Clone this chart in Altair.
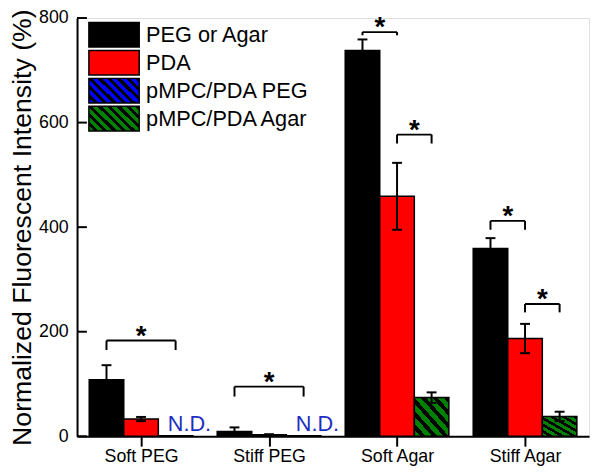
import json
import altair as alt
import pandas as pd

# ---------------- data ----------------
categories = ["Soft PEG", "Stiff PEG", "Soft Agar", "Stiff Agar"]
series = ["PEG or Agar", "PDA", "pMPC/PDA PEG", "pMPC/PDA Agar"]
series_colors = ["#000000", "#ff0000", "#0000ff", "#008000"]

peg_agar_mean = [108, 9, 738, 359]
peg_agar_err = [28, 8, 21, 20]
pda_mean = [33, 3, 459, 187]
pda_err = [4, 1, 64, 28]
pmpc_peg_categories = ["Soft PEG", "Stiff PEG"]   # N.D.
pmpc_peg_mean = [1, 1]
pmpc_peg_err = [0, 0]
pmpc_agar_categories = ["Soft Agar", "Stiff Agar"]
pmpc_agar_mean = [74, 38]
pmpc_agar_err = [10, 9]

nd_categories = ["Soft PEG", "Stiff PEG"]

# significance brackets: category, from slot, to slot, bracket level, leg end
br_category = ["Soft PEG", "Stiff PEG", "Soft Agar", "Soft Agar", "Stiff Agar", "Stiff Agar"]
br_from = [0, 0, 0, 1, 0, 1]
br_to = [2, 2, 1, 2, 1, 2]
br_top = [183, 95, 773, 577, 412, 253]
br_leg = [165, 76, 767, 560, 395, 237]

y_ticks = [0, 200, 400, 600, 800]

# ---------------- style ----------------
W = 0.27
FONT = "Liberation Sans"


def slot_x(i, slot):
    return i + (slot - 1) * W


rows = []


def add(name, slot, cats, means, errs):
    for c, m, e in zip(cats, means, errs):
        i = categories.index(c)
        xc = slot_x(i, slot)
        rows.append(dict(series=name, xc=xc, x0=xc - W / 2, x1=xc + W / 2,
                         mean=m, err=e, lo=m - e, hi=m + e, zero=0))


add(series[0], 0, categories, peg_agar_mean, peg_agar_err)
add(series[1], 1, categories, pda_mean, pda_err)
add(series[2], 2, pmpc_peg_categories, pmpc_peg_mean, pmpc_peg_err)
add(series[3], 2, pmpc_agar_categories, pmpc_agar_mean, pmpc_agar_err)
bars = pd.DataFrame(rows)
solid = bars[bars.series.isin(series[:2])]
blue_df = bars[bars.series == series[2]]
green_df = bars[bars.series == series[3]]
err_df = bars[bars.err > 0]

br_rows, leg_rows = [], []
for c, f, t, top, leg in zip(br_category, br_from, br_to, br_top, br_leg):
    i = categories.index(c)
    a, b = slot_x(i, f), slot_x(i, t)
    br_rows.append(dict(a=a, b=b, mid=(a + b) / 2, top=top, leg=leg))
    leg_rows.append(dict(x=a, top=top, leg=leg))
    leg_rows.append(dict(x=b, top=top, leg=leg))
br_df = pd.DataFrame(br_rows)
leg_df = pd.DataFrame(leg_rows)

nd_df = pd.DataFrame({"x": [slot_x(categories.index(c), 2) for c in nd_categories],
                      "zero": [0] * len(nd_categories)})
tick_df = pd.DataFrame({"v": y_ticks})
legend_df = pd.DataFrame({"label": series})


def hatch(color, n, black=0.45, x1=0, y1=1, x2=1, y2=0):
    stops = []
    for k in range(n):
        s = k / n
        m = (k + 1 - black) / n
        e = (k + 1) / n
        stops += [{"offset": s, "color": color}, {"offset": m, "color": color},
                  {"offset": m, "color": "#000000"}, {"offset": e, "color": "#000000"}]
    return {"gradient": "linear", "stops": stops, "x1": x1, "y1": y1, "x2": x2, "y2": y2}


labels_expr = json.dumps(categories) + "[datum.value]"
x_scale = alt.Scale(domain=[-0.5, 3.5], nice=False, zero=False)
y_scale = alt.Scale(domain=[0, 800], nice=False)
x_axis = alt.Axis(values=[0, 1, 2, 3], labelExpr=labels_expr, title=None, grid=False,
                  tickSize=10, tickWidth=2, tickColor="black", labelFontSize=18,
                  labelPadding=2, domainWidth=2, domainColor="black", labelColor="black",
                  labelFont=FONT)
y_axis = alt.Axis(values=y_ticks, ticks=False, labelPadding=9, labelFontSize=18, grid=False,
                  domainWidth=2, domainColor="black", labelColor="black", labelFont=FONT,
                  title="Normalized Fluorescent Intensity (%)", titleFontSize=27,
                  titleFontWeight="normal", titleFont=FONT, titleColor="black",
                  titleAngle=-90, titleX=-55, titleY=212, titleAlign="center",
                  titleBaseline="middle")


def X(f):
    return alt.X(f, type="quantitative", scale=x_scale, axis=x_axis)


def Y(f):
    return alt.Y(f, type="quantitative", scale=y_scale, axis=y_axis)


color_scale = alt.Scale(domain=series, range=series_colors)

solid_bars = alt.Chart(solid).mark_bar(stroke="black", strokeWidth=1.5).encode(
    x=X("x0"), x2="x1", y=Y("mean"), y2="zero",
    color=alt.Color("series:N", scale=color_scale, legend=None))
blue_bars = alt.Chart(blue_df).mark_bar(stroke="black", strokeWidth=1.5,
                                        fill=hatch("#0000ff", 7)).encode(
    x=X("x0"), x2="x1", y=Y("mean"), y2="zero")
green_bars = alt.Chart(green_df).mark_bar(stroke="black", strokeWidth=1.5,
                                          fill=hatch("#008000", 6)).encode(
    x=X("x0"), x2="x1", y=Y("mean"), y2="zero")

err_line = alt.Chart(err_df).mark_rule(color="black", strokeWidth=2).encode(
    x=X("xc"), y=Y("lo"), y2="hi")
cap_hi = alt.Chart(err_df).mark_tick(color="black", thickness=2, size=10,
                                      orient="horizontal", opacity=1).encode(
    x=X("xc"), y=Y("hi"))
cap_lo = alt.Chart(err_df).mark_tick(color="black", thickness=2, size=10,
                                      orient="horizontal", opacity=1).encode(
    x=X("xc"), y=Y("lo"))

br_h = alt.Chart(br_df).mark_rule(color="black", strokeWidth=2).encode(
    x=X("a"), x2="b", y=Y("top"))
br_v = alt.Chart(leg_df).mark_rule(color="black", strokeWidth=2).encode(
    x=X("x"), y=Y("leg"), y2="top")
stars = alt.Chart(br_df).mark_text(text="*", fontSize=28, fontWeight="bold", font=FONT,
                                   baseline="alphabetic", dy=4, color="black").encode(
    x=X("mid"), y=Y("top"))
nd = alt.Chart(nd_df).mark_text(text="N.D.", fontSize=22, font=FONT, color="#1f2fbf",
                                baseline="alphabetic", dx=14, dy=-5).encode(
    x=X("x"), y=Y("zero"))
yticks = alt.Chart(tick_df).mark_tick(color="black", thickness=2, size=10,
                                       orient="horizontal", opacity=1).encode(
    x=alt.value(5), y=Y("v"))

main = alt.layer(solid_bars, blue_bars, green_bars, err_line, cap_hi, cap_lo,
                 br_h, br_v, stars, nd, yticks)

leg_y = alt.Y("label:N", sort=series, axis=None,
              scale=alt.Scale(domain=series, range=[17, 102], padding=0))
SHAPE = "M-1,-0.49L1,-0.49L1,0.49L-1,0.49Z"
leg_solid = alt.Chart(legend_df).transform_filter(
    alt.FieldOneOfPredicate(field="label", oneOf=series[:2])
).mark_point(shape=SHAPE, size=2601, filled=True, opacity=1, stroke="black",
             strokeWidth=1.5).encode(
    x=alt.value(37.5), y=leg_y,
    color=alt.Color("label:N", scale=color_scale, legend=None))
leg_blue = alt.Chart(legend_df).transform_filter(
    alt.FieldEqualPredicate(field="label", equal=series[2])
).mark_point(shape=SHAPE, size=2601, filled=True, opacity=1, stroke="black",
             strokeWidth=1.5,
             fill=hatch("#0000ff", 8, x1=0, y1=1, x2=1.2, y2=0.4)).encode(
    x=alt.value(37.5), y=leg_y)
leg_green = alt.Chart(legend_df).transform_filter(
    alt.FieldEqualPredicate(field="label", equal=series[3])
).mark_point(shape=SHAPE, size=2601, filled=True, opacity=1, stroke="black",
             strokeWidth=1.5,
             fill=hatch("#008000", 8, x1=0, y1=1, x2=1.2, y2=0.4)).encode(
    x=alt.value(37.5), y=leg_y)
leg_text = alt.Chart(legend_df).mark_text(align="left", baseline="middle", fontSize=22,
                                          font=FONT, color="black").encode(
    x=alt.value(70), y=leg_y, text="label:N")

legend = alt.layer(leg_solid, leg_blue, leg_green, leg_text)

chart = alt.layer(main, legend).resolve_scale(y="independent").properties(
    width=519, height=424,
    padding={"left": 70, "top": 7, "right": 3, "bottom": 30},
    autosize=alt.AutoSizeParams(type="none"),
).configure_view(stroke="black", strokeWidth=2).configure(font=FONT)

chart.save("out.html", embed_options={"renderer": "svg", "actions": False})
